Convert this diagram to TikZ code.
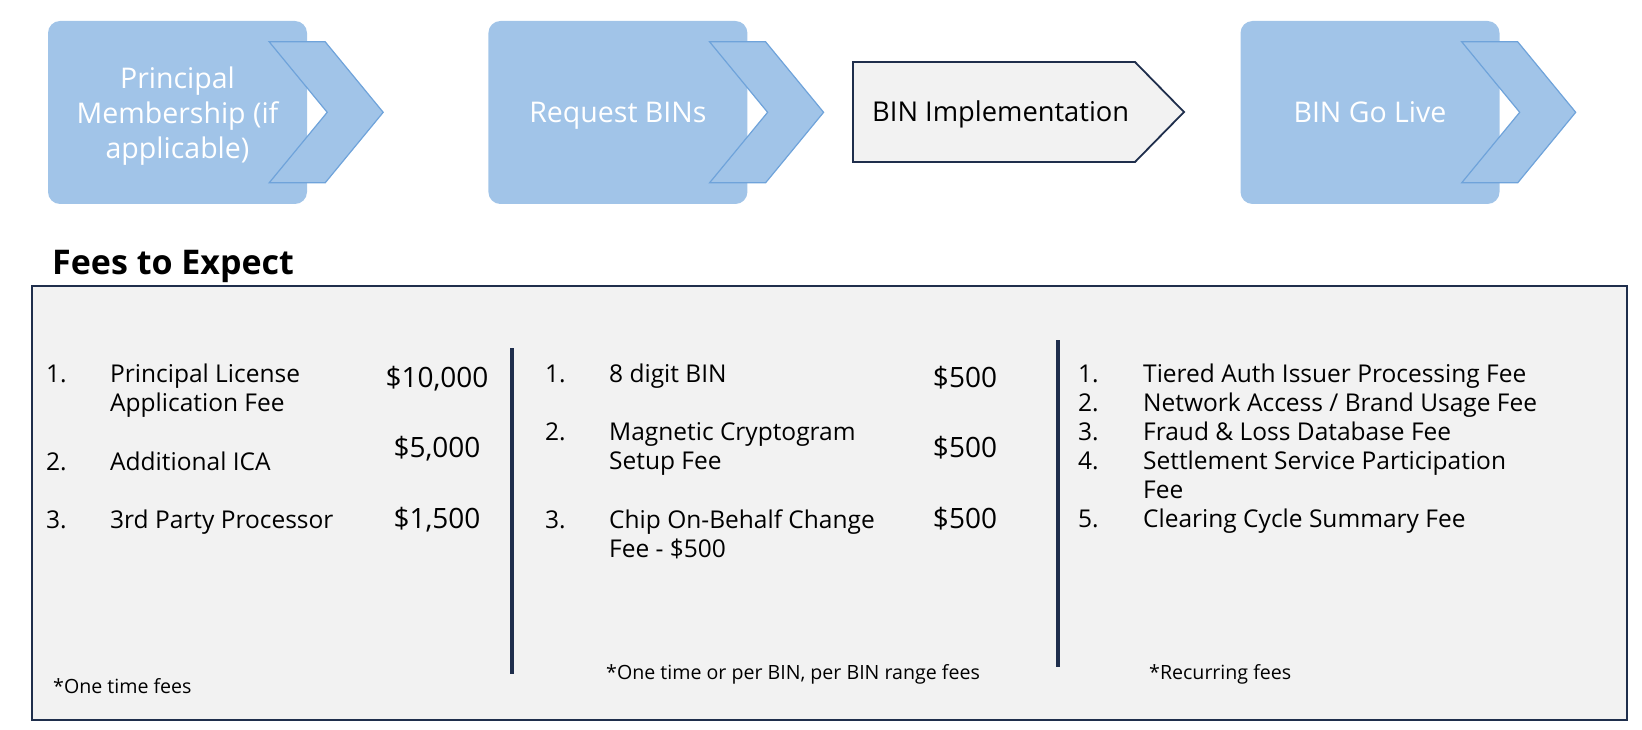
\documentclass[tikz,border=0pt]{standalone}
\usepackage{fontspec}
\setmainfont{Open Sans}
\usepackage{tikz}
\usetikzlibrary{positioning,calc}
\definecolor{stageblue}{HTML}{A1C4E8}
\definecolor{chevblue}{HTML}{6FA3DA}
\definecolor{panelgray}{HTML}{F2F2F2}
\definecolor{navy}{HTML}{1F2E4C}
\tikzset{
        stage/.style = {rectangle, rounded corners=12pt,
            fill=stageblue, text=white, align=center,
            text depth=0pt,
            minimum width=259pt,
            minimum height=183pt,
            font=\fontsize{28.5}{35}\selectfont},
        chev/.style = {fill=stageblue, draw=chevblue, line width=1.2pt},
        implbox/.style = {fill=panelgray, draw=navy, line width=1.8pt},
        panel/.style = {fill=panelgray, draw=navy, line width=1.4pt},
        divider/.style = {draw=navy, line width=3.2pt},
        heading/.style = {anchor=base west, inner sep=0pt,
            font=\fontsize{34}{40}\bfseries\selectfont},
        item/.style = {anchor=base west, inner sep=0pt, align=left,
            font=\fontsize{24.5}{29}\selectfont},
        price/.style = {anchor=base, inner sep=0pt,
            font=\fontsize{28}{34}\selectfont},
        note/.style = {anchor=base west, inner sep=0pt,
            font=\fontsize{19.6}{24}\selectfont},
    }

\begin{document}
\begin{tikzpicture}[x=1pt, y=-1pt, node distance=181pt]
		\useasboundingbox (0,0) rectangle (1642,730);
		% stages
		\node[stage]    (Membership)    at (177.5,112.5)    {Principal\\Membership (if\\applicable)};
		\node[stage]    (RequestBINs)   [right=of Membership]    {Request BINs};
		\node[stage]    (GoLive)        at (1370,112.5)     {BIN Go Live};
		\draw[chev] ($(Membership.north east)+(-38,21)$) -- ++(56,0) -- ++(58,70.5) -- ++(-58,70.5) -- ++(-56,0) -- ++(58,-70.5) -- cycle;
		\draw[chev] ($(RequestBINs.north east)+(-38,21)$) -- ++(56,0) -- ++(58,70.5) -- ++(-58,70.5) -- ++(-56,0) -- ++(58,-70.5) -- cycle;
		\draw[chev] ($(GoLive.north east)+(-38,21)$) -- ++(56,0) -- ++(58,70.5) -- ++(-58,70.5) -- ++(-56,0) -- ++(58,-70.5) -- cycle;
		\draw[implbox] (853,62) -- (1135,62) -- (1184,112) -- (1135,162) -- (853,162) -- cycle;
		\node[anchor=base west, inner sep=0pt, font=\fontsize{27.3}{34}\selectfont] (Implementation) at (872,122) {BIN Implementation};
		% fees
		\node[heading]  (FeesTitle)     at (52,275)     {Fees to Expect};
		\draw[panel] (32,286) rectangle (1627,720);
		\draw[divider] (512,348) -- (512,674);
		\draw[divider] (1058,340) -- (1058,667);
		% one time fees (multi-line nodes sit on their last baseline)
		\node[item]     (OneNumA)   at (46,382)     {1.};
		\node[item]     (OneNumB)   at (46,470)     {2.};
		\node[item]     (OneNumC)   at (46,528)     {3.};
		\node[item]     (OneItemA)  at (110,411)    {Principal License\\Application Fee};
		\node[item]     (OneItemB)  at (110,470)    {Additional ICA};
		\node[item]     (OneItemC)  at (110,528)    {3rd Party Processor};
		\node[price]    (OnePriceA) at (437,387)    {\$10,000};
		\node[price]    (OnePriceB) at (437,457)    {\$5,000};
		\node[price]    (OnePriceC) at (437,528)    {\$1,500};
		\node[note]     (OneNote)   at (53,693)     {*One time fees};
		% per BIN fees
		\node[item]     (BinNumA)   at (545,382)    {1.};
		\node[item]     (BinNumB)   at (545,440)    {2.};
		\node[item]     (BinNumC)   at (545,528)    {3.};
		\node[item]     (BinItemA)  at (609,382)    {8 digit BIN};
		\node[item]     (BinItemB)  at (609,469)    {Magnetic Cryptogram\\Setup Fee};
		\node[item]     (BinItemC)  at (609,557)    {Chip On-Behalf Change\\Fee - \$500};
		\node[price]    (BinPriceA) at (965,387)    {\$500};
		\node[price]    (BinPriceB) at (965,457)    {\$500};
		\node[price]    (BinPriceC) at (965,528)    {\$500};
		\node[note]     (BinNote)   at (606,679)    {*One time or per BIN, per BIN range fees};
		% recurring fees
		\node[item]     (RecNum)    at (1078,527)   {1.\\2.\\3.\\4.\\\\5.};
		\node[item]     (RecItems)  at (1143,527)   {Tiered Auth Issuer Processing Fee\\Network Access / Brand Usage Fee\\Fraud \& Loss Database Fee\\Settlement Service Participation\\Fee\\Clearing Cycle Summary Fee};
		\node[note]     (RecNote)   at (1149,679)   {*Recurring fees};
		\end{tikzpicture}
\end{document}
